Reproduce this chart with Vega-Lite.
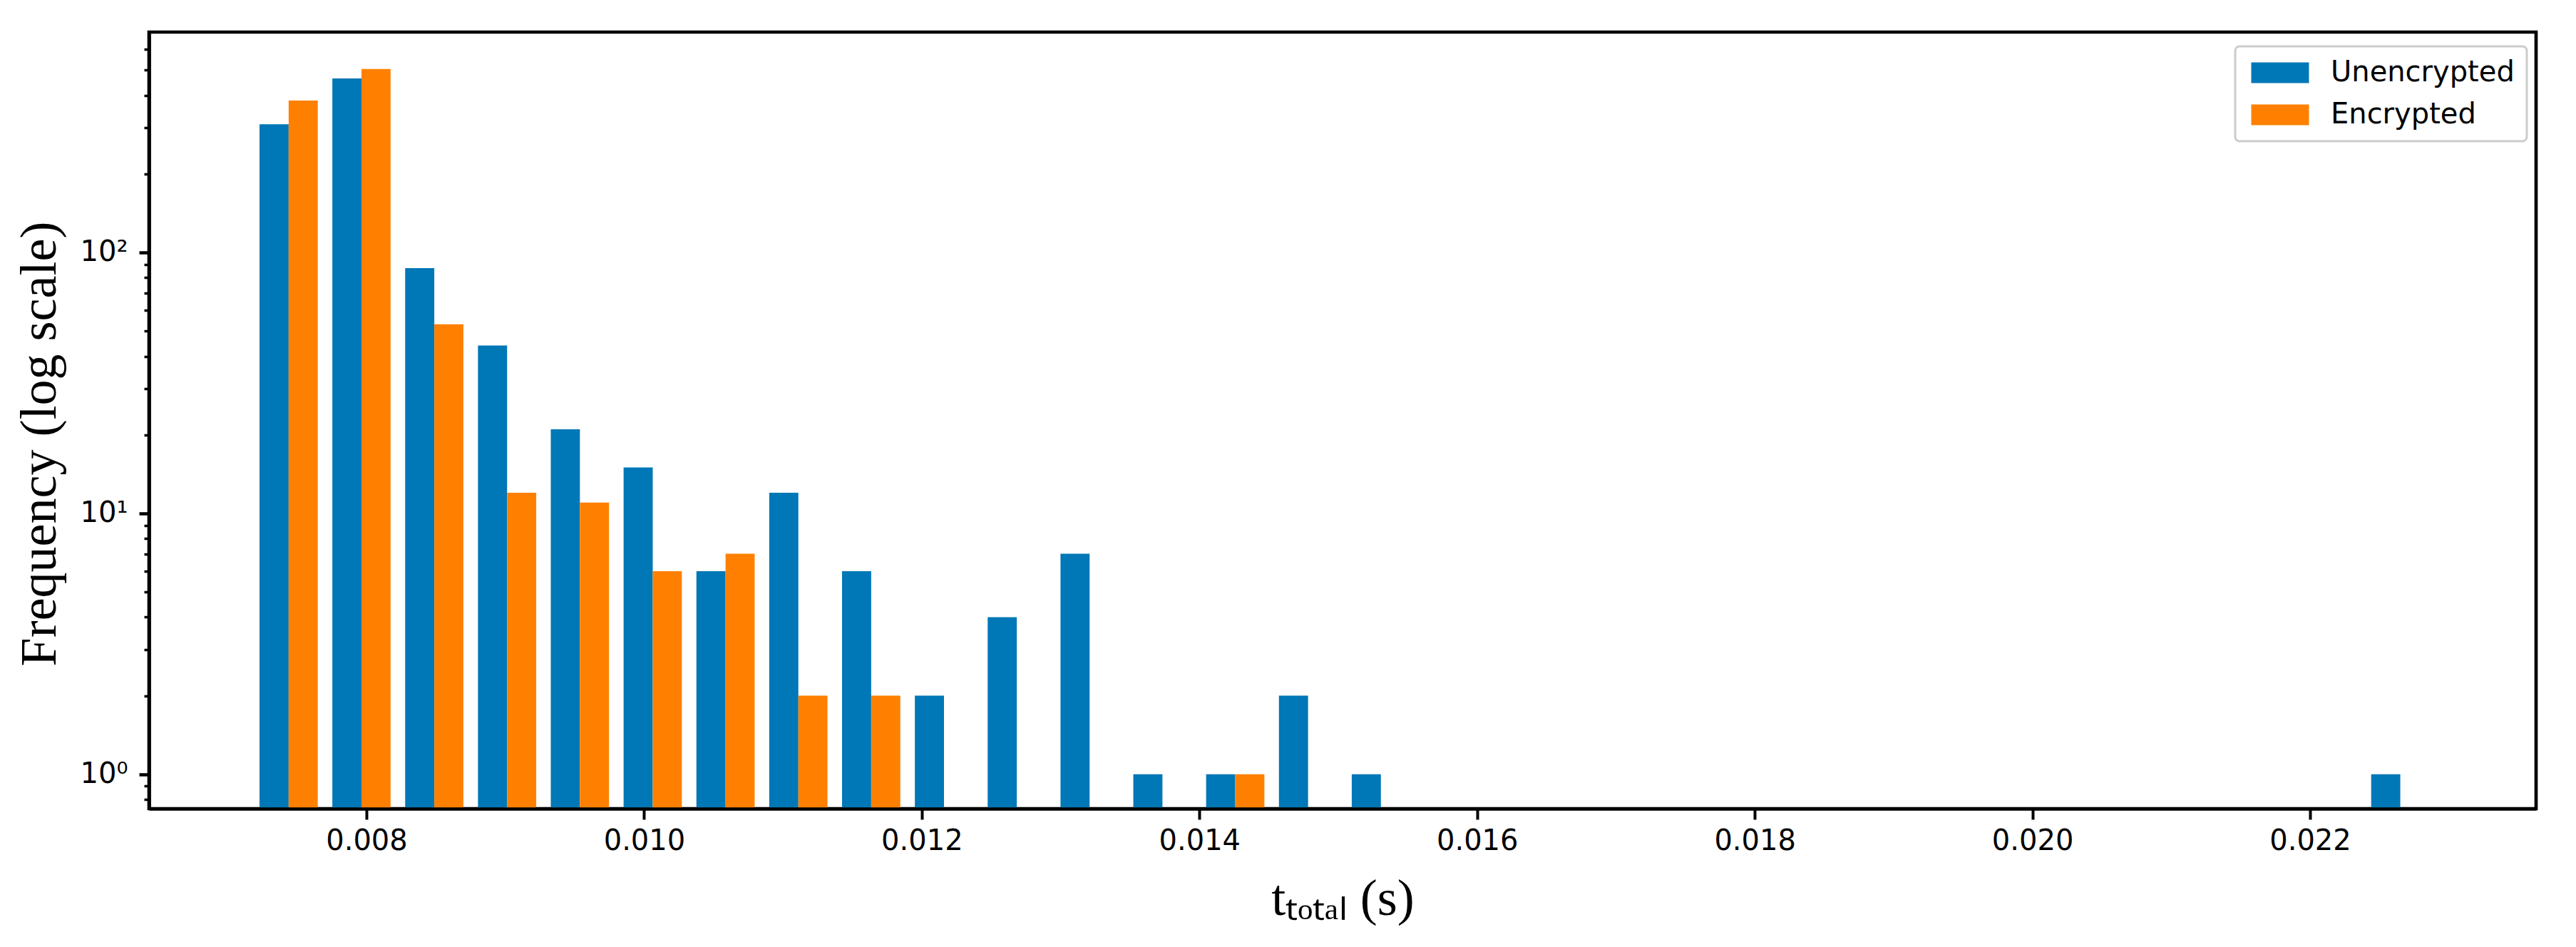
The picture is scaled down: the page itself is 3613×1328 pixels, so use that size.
{
  "$schema": "https://vega.github.io/schema/vega-lite/v6.json",
  "width": 3348,
  "height": 1089,
  "autosize": {"type": "none"},
  "padding": {"left": 209, "top": 45, "right": 56, "bottom": 194},
  "background": "white",
  "config": {
    "view": {"stroke": "black", "strokeWidth": 4.7},
    "legend": {"strokeColor": "#cccccc", "strokeWidth": 3, "cornerRadius": 6, "fillColor": "white", "padding": 17}
  },
  "data": {
    "values": [
      {"bin_start": 0.0071772, "bin_end": 0.0077017, "series": "Unencrypted", "count": 310},
      {"bin_start": 0.0071772, "bin_end": 0.0077017, "series": "Encrypted", "count": 382},
      {"bin_start": 0.0077017, "bin_end": 0.0082262, "series": "Unencrypted", "count": 464},
      {"bin_start": 0.0077017, "bin_end": 0.0082262, "series": "Encrypted", "count": 505},
      {"bin_start": 0.0082262, "bin_end": 0.0087507, "series": "Unencrypted", "count": 87},
      {"bin_start": 0.0082262, "bin_end": 0.0087507, "series": "Encrypted", "count": 53},
      {"bin_start": 0.0087507, "bin_end": 0.0092752, "series": "Unencrypted", "count": 44},
      {"bin_start": 0.0087507, "bin_end": 0.0092752, "series": "Encrypted", "count": 12},
      {"bin_start": 0.0092752, "bin_end": 0.0097997, "series": "Unencrypted", "count": 21},
      {"bin_start": 0.0092752, "bin_end": 0.0097997, "series": "Encrypted", "count": 11},
      {"bin_start": 0.0097997, "bin_end": 0.0103242, "series": "Unencrypted", "count": 15},
      {"bin_start": 0.0097997, "bin_end": 0.0103242, "series": "Encrypted", "count": 6},
      {"bin_start": 0.0103242, "bin_end": 0.0108487, "series": "Unencrypted", "count": 6},
      {"bin_start": 0.0103242, "bin_end": 0.0108487, "series": "Encrypted", "count": 7},
      {"bin_start": 0.0108487, "bin_end": 0.0113732, "series": "Unencrypted", "count": 12},
      {"bin_start": 0.0108487, "bin_end": 0.0113732, "series": "Encrypted", "count": 2},
      {"bin_start": 0.0113732, "bin_end": 0.0118977, "series": "Unencrypted", "count": 6},
      {"bin_start": 0.0113732, "bin_end": 0.0118977, "series": "Encrypted", "count": 2},
      {"bin_start": 0.0118977, "bin_end": 0.0124222, "series": "Unencrypted", "count": 2},
      {"bin_start": 0.0124222, "bin_end": 0.0129467, "series": "Unencrypted", "count": 4},
      {"bin_start": 0.0129467, "bin_end": 0.0134712, "series": "Unencrypted", "count": 7},
      {"bin_start": 0.0134712, "bin_end": 0.0139957, "series": "Unencrypted", "count": 1},
      {"bin_start": 0.0139957, "bin_end": 0.0145202, "series": "Unencrypted", "count": 1},
      {"bin_start": 0.0139957, "bin_end": 0.0145202, "series": "Encrypted", "count": 1},
      {"bin_start": 0.0145202, "bin_end": 0.0150447, "series": "Unencrypted", "count": 2},
      {"bin_start": 0.0150447, "bin_end": 0.0155692, "series": "Unencrypted", "count": 1},
      {"bin_start": 0.0223877, "bin_end": 0.0229122, "series": "Unencrypted", "count": 1}
    ]
  },
  "transform": [
    {"calculate": "datum.series == 'Unencrypted' ? 0 : 1", "as": "k"},
    {"calculate": "datum.bin_start + (0.1 + 0.4 * datum.k) * (datum.bin_end - datum.bin_start)", "as": "lo"},
    {"calculate": "datum.lo + 0.4 * (datum.bin_end - datum.bin_start)", "as": "hi"}
  ],
  "encoding": {
    "x": {
      "field": "lo",
      "type": "quantitative",
      "scale": {"domain": [0.0064336, 0.023628], "nice": false, "zero": false},
      "axis": {
        "values": [0.008, 0.010, 0.012, 0.014, 0.016, 0.018, 0.020, 0.022],
        "format": ".3f",
        "grid": false,
        "zindex": 1,
        "domainColor": "black",
        "domainWidth": 4.7,
        "tickColor": "black",
        "tickSize": 15,
        "tickWidth": 4,
        "labelFont": "DejaVu Sans",
        "labelFontSize": 40,
        "labelColor": "black",
        "labelPadding": 10,
        "labelFlush": false,
        "title": "tₜₒₜₐₗ (s)",
        "titleFont": "Liberation Serif",
        "titleFontSize": 72,
        "titleFontWeight": "normal",
        "titleColor": "black",
        "titleBaseline": "alphabetic",
        "titleY": 148
      }
    },
    "x2": {"field": "hi"},
    "y2": {"datum": 0.5}
  },
  "layer": [
    {
      "mark": {"type": "bar", "opacity": 0},
      "encoding": {
        "y": {
          "field": "count",
          "type": "quantitative",
          "scale": {"type": "log", "domain": [0.738, 699], "nice": false, "clamp": true},
          "axis": {
            "orient": "left",
            "values": [0.8, 0.9, 2, 3, 4, 5, 6, 7, 8, 9, 20, 30, 40, 50, 60, 70, 80, 90, 200, 300, 400, 500, 600],
            "labels": false,
            "grid": false,
            "domain": false,
            "zindex": 1,
            "tickColor": "black",
            "tickSize": 7,
            "tickWidth": 3.5,
            "title": null
          }
        }
      }
    },
    {
      "mark": {"type": "bar", "strokeWidth": 0},
      "encoding": {
        "y": {
          "field": "count",
          "type": "quantitative",
          "scale": {"type": "log", "domain": [0.738, 699], "nice": false, "clamp": true},
          "axis": {
            "orient": "left",
            "values": [1, 10, 100],
            "labelExpr": "datum.value == 1 ? '10⁰' : datum.value == 10 ? '10¹' : '10²'",
            "labelOverlap": false,
            "grid": false,
            "zindex": 1,
            "domainColor": "black",
            "domainWidth": 4.7,
            "tickColor": "black",
            "tickSize": 14,
            "tickWidth": 4.5,
            "labelFont": "DejaVu Sans",
            "labelFontSize": 40,
            "labelColor": "black",
            "labelPadding": 16,
            "title": "Frequency (log scale)",
            "titleFont": "Liberation Serif",
            "titleFontSize": 72,
            "titleFontWeight": "normal",
            "titleColor": "black",
            "titleAngle": -90,
            "titleAlign": "center",
            "titleBaseline": "alphabetic",
            "titleX": -132,
            "titleY": 577
          }
        },
        "color": {
          "field": "series",
          "type": "nominal",
          "scale": {"domain": ["Unencrypted", "Encrypted"], "range": ["#0077b6", "#ff8000"]},
          "legend": {
            "title": null,
            "orient": "none",
            "legendX": 2926,
            "legendY": 20,
            "direction": "vertical",
            "symbolType": "M-1,-1L4.586,-1L4.586,1L-1,1Z",
            "symbolSize": 841,
            "symbolStrokeWidth": 0,
            "symbolOpacity": 1,
            "labelFont": "DejaVu Sans",
            "labelFontSize": 40,
            "labelColor": "black",
            "labelLimit": 0,
            "labelOffset": 77,
            "rowPadding": 19
          }
        }
      }
    }
  ],
  "resolve": {"axis": {"y": "independent"}}
}
